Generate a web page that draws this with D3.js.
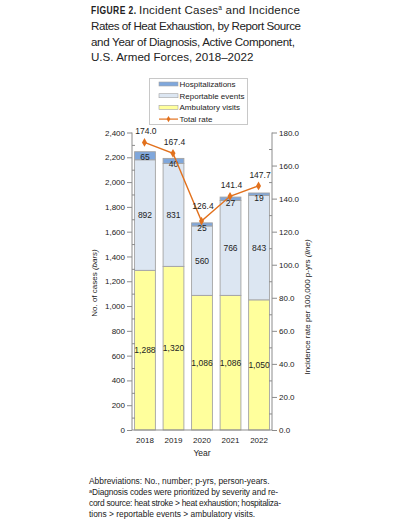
<!DOCTYPE html>
<html>
<head>
<meta charset="utf-8">
<script src="https://cdn.jsdelivr.net/npm/d3@7"></script>
<style>
  body { margin: 0; background: #fff; }
  svg text { font-family: "Liberation Sans", Arial, sans-serif; fill: #222; }
  .axis path, .axis line { stroke: #8c8c8c; }
  .axis text { font-size: 8px; fill: #222; }
</style>
</head>
<body>
<div id="chart"></div>
<script>
const width = 400, height = 524;

// data
const years = ["2018", "2019", "2020", "2021", "2022"];
const ambulatory = [1288, 1320, 1086, 1086, 1050];
const reportable = [892, 831, 560, 766, 843];
const hospitalizations = [65, 40, 25, 27, 19];
const totalRate = [174.0, 167.4, 126.4, 141.4, 147.7];
const leftTicks = [0, 200, 400, 600, 800, 1000, 1200, 1400, 1600, 1800, 2000, 2200, 2400];
const rightTicks = [0, 20, 40, 60, 80, 100, 120, 140, 160, 180];

const seriesNames = ["Ambulatory visits", "Reportable events", "Hospitalizations"];
const colors = { "Ambulatory visits": "#ffff9c", "Reportable events": "#dce6f2", "Hospitalizations": "#7fa7dc" };
const lineColor = "#e2711d";

const rows = years.map((y, i) => ({
  year: y,
  "Ambulatory visits": ambulatory[i],
  "Reportable events": reportable[i],
  "Hospitalizations": hospitalizations[i],
  rate: totalRate[i]
}));

const svg = d3.select("#chart").append("svg")
  .attr("width", width).attr("height", height);

// ---- title
const title = svg.append("g").attr("font-size", "11.6px");
title.append("text").attr("transform", "translate(91,13.5) scale(0.74,1)")
  .attr("font-weight", "bold").attr("font-size", "11.5px").attr("letter-spacing", "0.6")
  .text("FIGURE 2.");
const t1 = title.append("text").attr("x", 139).attr("y", 13.5)
  .attr("textLength", 161).attr("lengthAdjust", "spacing");
t1.append("tspan").text("Incident Cases");
t1.append("tspan").attr("font-size", "6.5px").attr("dy", -4).text("a");
t1.append("tspan").attr("dy", 4).text(" and Incidence");
title.append("text").attr("x", 91).attr("y", 29.5)
  .attr("textLength", 210).attr("lengthAdjust", "spacing")
  .text("Rates of Heat Exhaustion, by Report Source");
title.append("text").attr("x", 91).attr("y", 45.5)
  .attr("textLength", 204).attr("lengthAdjust", "spacing")
  .text("and Year of Diagnosis, Active Component,");
title.append("text").attr("x", 91).attr("y", 61)
  .text("U.S. Armed Forces, 2018\u20132022");

// ---- scales
const x = d3.scaleBand().domain(years).range([132, 272]).paddingInner(0.27).paddingOuter(0.09);
const yL = d3.scaleLinear().domain([0, 2400]).range([430, 132.5]);
const yR = d3.scaleLinear().domain([0, 180]).range([430, 132.5]);

// ---- bars
const stacked = d3.stack().keys(seriesNames)(rows);

svg.append("g").selectAll("g")
  .data(stacked)
  .join("g")
    .attr("fill", d => colors[d.key])
  .selectAll("rect")
  .data(d => d)
  .join("rect")
    .attr("x", d => x(d.data.year))
    .attr("width", x.bandwidth())
    .attr("y", d => yL(d[1]))
    .attr("height", d => yL(d[0]) - yL(d[1]))
    .attr("stroke", "#a3a3a3")
    .attr("stroke-width", 0.9);

// bar labels
const fmt = d3.format(",");
stacked.forEach(layer => {
  svg.append("g").selectAll("text")
    .data(layer)
    .join("text")
      .attr("x", d => x(d.data.year) + x.bandwidth() / 2)
      .attr("y", d => {
        const mid = (yL(d[0]) + yL(d[1])) / 2;
        const yy = layer.key === "Hospitalizations" ? Math.max(mid, yL(d[1]) + 5.5) : mid;
        return yy + 3;
      })
      .attr("text-anchor", "middle")
      .attr("font-size", "8.5px")
      .text(d => fmt(d.data[layer.key]));
});

// ---- axes
const leftMinor = d3.range(100, 2400, 200);
const rightMinor = d3.range(10, 180, 20);

svg.append("g").attr("class", "axis").attr("transform", "translate(132,0)")
  .call(d3.axisLeft(yL).tickValues(leftTicks).tickSize(5).tickPadding(2).tickFormat(d3.format(",")))
  .call(g => g.select(".domain").attr("d", `M0,${yL(2400)}V${yL(0)}`));
svg.append("g").attr("class", "axis").attr("transform", "translate(132,0)")
  .call(d3.axisLeft(yL).tickValues(leftMinor).tickSize(-3).tickFormat(""))
  .call(g => g.select(".domain").remove());

svg.append("g").attr("class", "axis").attr("transform", "translate(272,0)")
  .call(d3.axisRight(yR).tickValues(rightTicks).tickSize(5).tickPadding(2).tickFormat(d3.format(".1f")))
  .call(g => g.select(".domain").attr("d", `M0,${yR(180)}V${yR(0)}`));
svg.append("g").attr("class", "axis").attr("transform", "translate(272,0)")
  .call(d3.axisRight(yR).tickValues(rightMinor).tickSize(-3).tickFormat(""))
  .call(g => g.select(".domain").remove());

svg.append("g").attr("class", "axis").attr("transform", "translate(0,430)")
  .call(d3.axisBottom(x).tickSize(0).tickPadding(7))
  .call(g => g.select(".domain").attr("d", "M132,0H272"));

// axis titles
svg.append("text").attr("transform", "translate(97,283) rotate(-90)")
  .attr("text-anchor", "middle").attr("font-size", "8px")
  .call(t => { t.append("tspan").text("No. of cases "); t.append("tspan").attr("font-style", "italic").text("(bars)"); });

svg.append("text").attr("transform", "translate(310,307) rotate(-90)")
  .attr("text-anchor", "middle").attr("font-size", "8px")
  .call(t => { t.append("tspan").text("Incidence rate per 100,000 p-yrs "); t.append("tspan").attr("font-style", "italic").text("(line)"); });

svg.append("text").attr("x", 202).attr("y", 456)
  .attr("text-anchor", "middle").attr("font-size", "8.5px").text("Year");

// ---- rate line
const cx = d => x(d.year) + x.bandwidth() / 2 - 0.5;
svg.append("path")
  .datum(rows)
  .attr("fill", "none")
  .attr("stroke", lineColor)
  .attr("stroke-width", 1.4)
  .attr("d", d3.line().x(cx).y(d => yR(d.rate)));

const diamond = d3.symbol().type(d3.symbolDiamond).size(22);
svg.append("g").selectAll("path")
  .data(rows)
  .join("path")
    .attr("transform", d => `translate(${cx(d)},${yR(d.rate)})`)
    .attr("d", diamond)
    .attr("fill", lineColor);

svg.append("g").selectAll("text")
  .data(rows)
  .join("text")
    .attr("x", d => cx(d) + 1.5)
    .attr("y", d => yR(d.rate) - (d.rate < 130 ? 12 : 8))
    .attr("text-anchor", "middle")
    .attr("font-size", "8.5px")
    .text(d => d.rate.toFixed(1));

// ---- legend
const legend = svg.append("g");
legend.append("rect").attr("x", 149.5).attr("y", 78.5).attr("width", 98).attr("height", 46)
  .attr("fill", "#fff").attr("stroke", "#c8c8c8");
const legendItems = ["Hospitalizations", "Reportable events", "Ambulatory visits", "Total rate"];
legendItems.forEach((name, i) => {
  const yy = 84 + i * 11.7;
  if (name === "Total rate") {
    legend.append("line").attr("x1", 159).attr("x2", 178).attr("y1", yy).attr("y2", yy)
      .attr("stroke", lineColor).attr("stroke-width", 1.2);
    legend.append("path").attr("transform", `translate(168.5,${yy})`)
      .attr("d", d3.symbol().type(d3.symbolDiamond).size(12)).attr("fill", lineColor);
  } else {
    legend.append("rect").attr("x", 159).attr("y", yy - 2).attr("width", 19).attr("height", 4)
      .attr("fill", colors[name]).attr("stroke", "#a3a3a3").attr("stroke-width", 0.6);
  }
  legend.append("text").attr("x", 179.5).attr("y", yy + 3)
    .attr("font-size", "8px").text(name);
});

// ---- notes
const notes = svg.append("g").attr("font-size", "8.4px");
notes.append("text").attr("x", 89).attr("y", 484)
  .text("Abbreviations: No., number; p-yrs, person-years.");
const n2 = notes.append("text").attr("x", 89).attr("y", 495)
  .attr("textLength", 189).attr("lengthAdjust", "spacing");
n2.append("tspan").attr("font-size", "5.5px").attr("dy", -2.5).text("a");
n2.append("tspan").attr("dy", 2.5).text("Diagnosis codes were prioritized by severity and re-");
notes.append("text").attr("x", 89).attr("y", 506)
  .attr("textLength", 192).attr("lengthAdjust", "spacing")
  .text("cord source: heat stroke > heat exhaustion; hospitaliza-");
notes.append("text").attr("x", 89).attr("y", 517)
  .text("tions > reportable events > ambulatory visits.");
</script>
</body>
</html>
